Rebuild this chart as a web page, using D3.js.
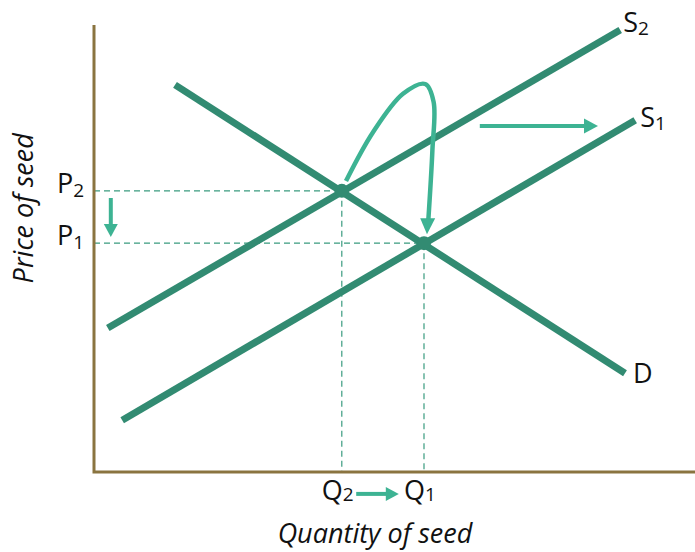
<!DOCTYPE html>
<html>
<head>
<meta charset="utf-8">
<script src="https://cdn.jsdelivr.net/npm/d3@7"></script>
<style>
  body { margin: 0; background: #fff; }
  text { font-family: "Open Sans", "Noto Sans", sans-serif; fill: #111; }
</style>
</head>
<body>
<div id="chart"></div>
<script>
// curve end points (quantity, price) in chart units 0..100
const supply1 = [{ q: 4.7, p: 11.6 }, { q: 90.2, p: 78.7 }];
const supply2 = [{ q: 2.3, p: 32.2 }, { q: 87.7, p: 98.9 }];
const demand = [{ q: 13.5, p: 86.6 }, { q: 88.5, p: 22.1 }];
const curveNames = ["S", "S", "D"];
const curveSubs = ["1", "2", ""];

// equilibria
const eqNames = ["1", "2"];
const eqQ = [55.0, 41.3];
const eqP = [51.2, 62.9];

// annotation arrows
const shiftArrow = [{ q: 64.3, p: 77.4 }, { q: 84.0, p: 77.4 }];
const priceArrow = [{ q: 2.8, p: 61.3 }, { q: 2.8, p: 52.6 }];
const qtyArrow = [{ q: 43.7, p: -4.9 }, { q: 50.8, p: -4.9 }];
const movePath = [
  { q: 42.0, p: 65.1 }, { q: 46.5, p: 76.0 }, { q: 51.5, p: 84.6 },
  { q: 55.2, p: 86.8 }, { q: 56.6, p: 82.8 }, { q: 56.4, p: 72.0 },
  { q: 55.7, p: 55.9 }
];
const moveTip = { q: 55.5, p: 53.2 };

const width = 695, height = 552;
const lineColor = "#328b72";
const arrowColor = "#3db393";
const axisColor = "#8a7440";

const x = d3.scaleLinear().domain([0, 100]).range([94, 694]);
const y = d3.scaleLinear().domain([0, 100]).range([472, 25]);

const svg = d3.select("#chart").append("svg")
  .attr("width", width).attr("height", height);

// dashed guides
const guides = svg.append("g")
  .attr("stroke", "#3a9b7f").attr("stroke-width", 1.2)
  .attr("stroke-dasharray", "6,4");
eqQ.forEach((q, i) => {
  guides.append("line")
    .attr("x1", x(0)).attr("x2", x(q))
    .attr("y1", y(eqP[i])).attr("y2", y(eqP[i]));
  guides.append("line")
    .attr("x1", x(q)).attr("x2", x(q))
    .attr("y1", y(eqP[i])).attr("y2", y(0));
});

// axes
svg.append("path")
  .attr("d", `M${x(0)},${y(100)}V${y(0)}H${width}`)
  .attr("fill", "none").attr("stroke", axisColor).attr("stroke-width", 3);

// curves
const line = d3.line().x((d) => x(d.q)).y((d) => y(d.p));
const curves = [supply1, supply2, demand];
const labelOffsets = [[5, 7], [3, 2], [8, 10]];
curves.forEach((c, i) => {
  svg.append("path").attr("d", line(c))
    .attr("fill", "none").attr("stroke", lineColor).attr("stroke-width", 7);
  const end = c[1];
  const t = svg.append("text")
    .attr("x", x(end.q) + labelOffsets[i][0])
    .attr("y", y(end.p) + labelOffsets[i][1])
    .attr("font-size", 27)
    .text(curveNames[i]);
  if (curveSubs[i]) {
    t.append("tspan").attr("font-size", 19).attr("dy", 3).text(curveSubs[i]);
  }
});

// equilibrium dots
eqQ.forEach((q, i) => {
  svg.append("circle").attr("cx", x(q)).attr("cy", y(eqP[i]))
    .attr("r", 7).attr("fill", lineColor);
});

// axis labels P and Q
eqNames.forEach((n, i) => {
  const tp = svg.append("text").attr("x", x(0) - 37).attr("y", y(eqP[i]) + 2)
    .attr("font-size", 27).text("P");
  tp.append("tspan").attr("font-size", 19).attr("dy", 4).text(n);
  const tq = svg.append("text").attr("x", x(eqQ[i]) - 20).attr("y", y(0) + 28)
    .attr("font-size", 27).text("Q");
  tq.append("tspan").attr("font-size", 19).attr("dy", 1).text(n);
});

// arrow helper: shaft + triangular head
function arrow(a, b, w, headLen, headW) {
  const x1 = x(a.q), y1 = y(a.p), x2 = x(b.q), y2 = y(b.p);
  const dx = x2 - x1, dy = y2 - y1, len = Math.hypot(dx, dy);
  const ux = dx / len, uy = dy / len;
  const bx = x2 - ux * headLen, by = y2 - uy * headLen;
  svg.append("line").attr("x1", x1).attr("y1", y1).attr("x2", bx + ux).attr("y2", by + uy)
    .attr("stroke", arrowColor).attr("stroke-width", w);
  svg.append("path")
    .attr("d", `M${x2},${y2}L${bx - uy * headW / 2},${by + ux * headW / 2}L${bx + uy * headW / 2},${by - ux * headW / 2}Z`)
    .attr("fill", arrowColor);
}

arrow(shiftArrow[0], shiftArrow[1], 4, 14, 15);
arrow(priceArrow[0], priceArrow[1], 4, 13, 14);
arrow(qtyArrow[0], qtyArrow[1], 4, 13, 14);

// movement along demand curve
svg.append("path")
  .attr("d", d3.line().curve(d3.curveCatmullRom).x((d) => x(d.q)).y((d) => y(d.p))(movePath))
  .attr("fill", "none").attr("stroke", arrowColor).attr("stroke-width", 4.5)
  .attr("stroke-linecap", "butt");
{
  const last = movePath[movePath.length - 1];
  const tx = x(moveTip.q), ty = y(moveTip.p);
  const lx = x(last.q), ly = y(last.p) - 2;
  svg.append("path")
    .attr("d", `M${tx},${ty}L${lx - 8},${ly - 2}L${lx + 7},${ly - 2}Z`)
    .attr("fill", arrowColor);
}

// axis titles
svg.append("text")
  .attr("x", 375).attr("y", 543)
  .attr("text-anchor", "middle").attr("font-size", 27).attr("font-style", "italic")
  .text("Quantity of seed");
svg.append("text")
  .attr("transform", `translate(33, ${y(59)}) rotate(-90)`)
  .attr("text-anchor", "middle").attr("font-size", 27).attr("font-style", "italic")
  .text("Price of seed");
</script>
</body>
</html>
